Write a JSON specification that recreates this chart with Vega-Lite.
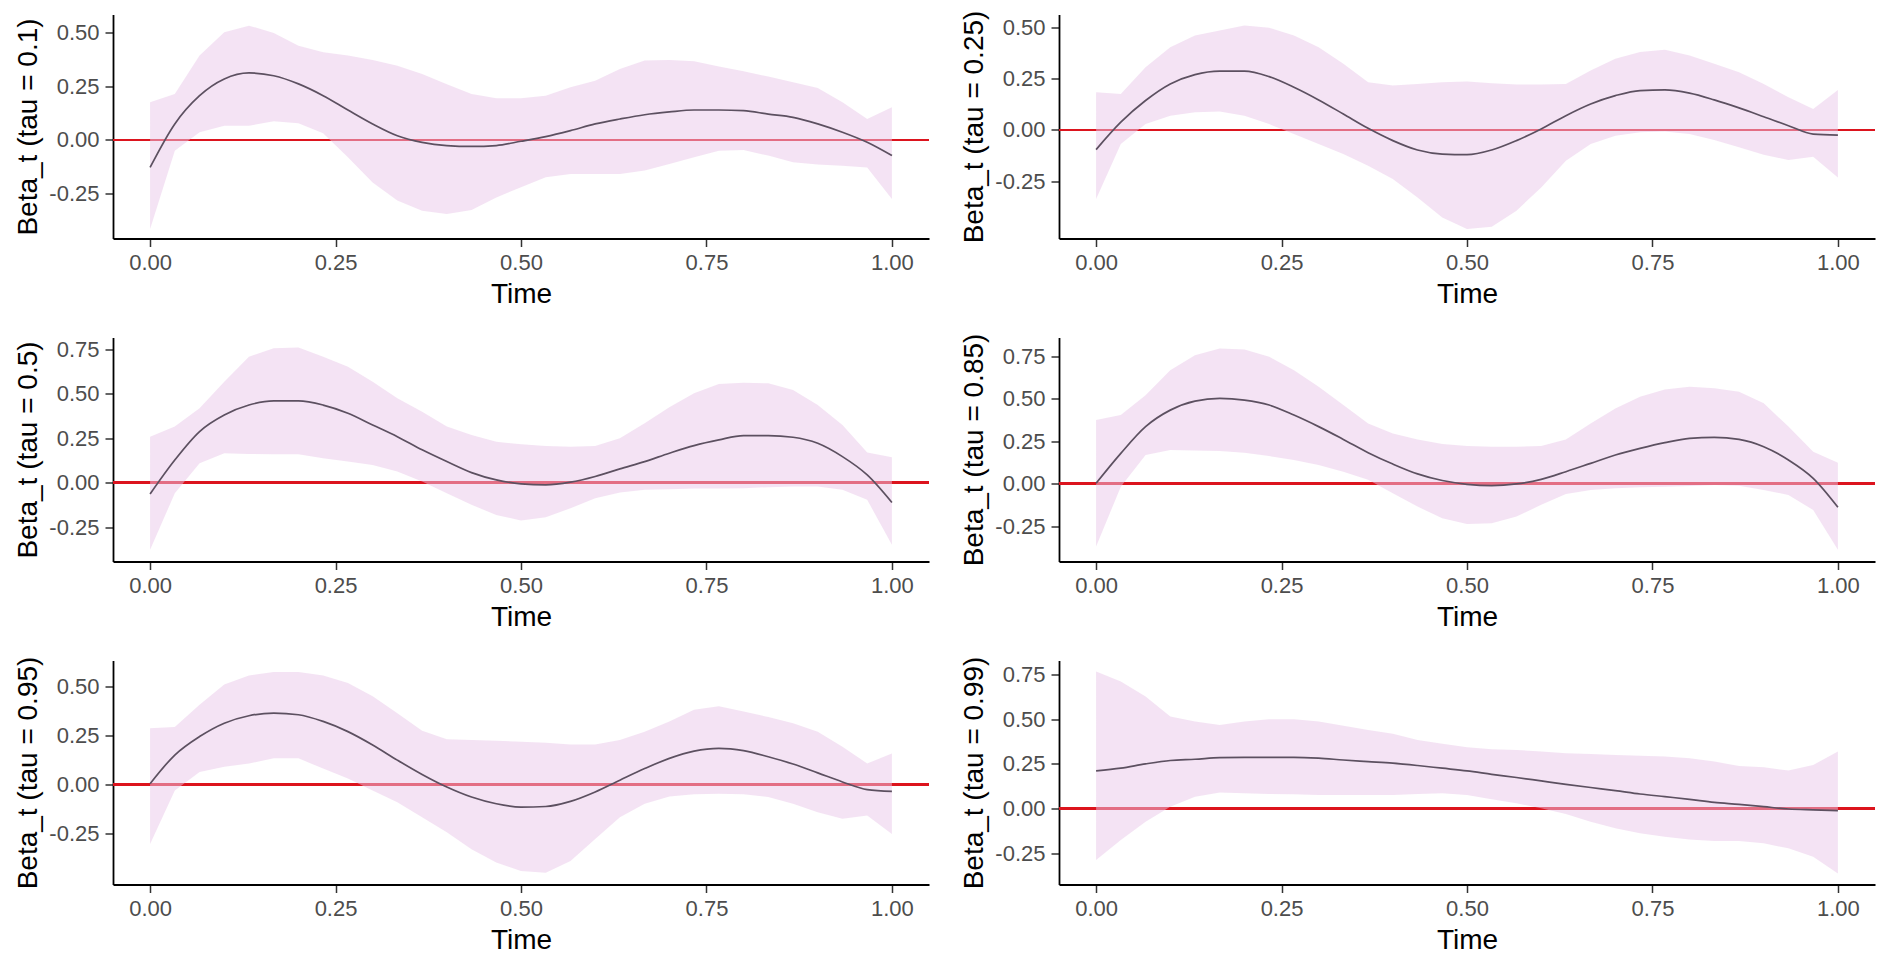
{
"$schema": "https://vega.github.io/schema/vega-lite/v6.json",
"background": "white",
"padding": {"left": 14, "top": 9.5, "right": 5, "bottom": 5},
"config": {
  "view": {"stroke": null},
  "axis": {"grid": false, "domainColor": "black", "domainWidth": 1.8, "tickColor": "#333333", "tickWidth": 1.5, "tickSize": 8, "labelColor": "#4D4D4D", "labelFont": "Liberation Sans", "labelFontSize": 22, "titleFont": "Liberation Sans", "titleFontSize": 28, "titleFontWeight": "normal", "titleColor": "black", "labelFlush": false, "labelOverlap": false},
  "axisX": {"labelPadding": 6, "titlePadding": 7},
  "axisY": {"labelPadding": 6, "titlePadding": 6}
},
"datasets": {
"p1": [
{"t":0,"lo":-0.416,"hi":0.176,"m":-0.128},{"t":0.0333,"lo":-0.05,"hi":0.215,"m":0.075},{"t":0.0667,"lo":0.036,"hi":0.394,"m":0.207},{"t":0.1,"lo":0.067,"hi":0.503,"m":0.285},{"t":0.1333,"lo":0.067,"hi":0.534,"m":0.313},{"t":0.1667,"lo":0.087,"hi":0.5,"m":0.3},{"t":0.2,"lo":0.078,"hi":0.44,"m":0.262},{"t":0.2333,"lo":0.031,"hi":0.41,"m":0.207},{"t":0.2667,"lo":-0.081,"hi":0.394,"m":0.14},{"t":0.3,"lo":-0.198,"hi":0.374,"m":0.075},{"t":0.3333,"lo":-0.283,"hi":0.347,"m":0.02},{"t":0.3667,"lo":-0.33,"hi":0.308,"m":-0.011},{"t":0.4,"lo":-0.346,"hi":0.26,"m":-0.026},{"t":0.4333,"lo":-0.327,"hi":0.215,"m":-0.03},{"t":0.4667,"lo":-0.268,"hi":0.195,"m":-0.026},{"t":0.5,"lo":-0.221,"hi":0.195,"m":-0.006},{"t":0.5333,"lo":-0.174,"hi":0.207,"m":0.016},{"t":0.5667,"lo":-0.159,"hi":0.246,"m":0.044},{"t":0.6,"lo":-0.159,"hi":0.277,"m":0.075},{"t":0.6333,"lo":-0.159,"hi":0.332,"m":0.098},{"t":0.6667,"lo":-0.143,"hi":0.371,"m":0.118},{"t":0.7,"lo":-0.112,"hi":0.374,"m":0.131},{"t":0.7333,"lo":-0.081,"hi":0.368,"m":0.14},{"t":0.7667,"lo":-0.05,"hi":0.343,"m":0.14},{"t":0.8,"lo":-0.047,"hi":0.321,"m":0.137},{"t":0.8333,"lo":-0.073,"hi":0.296,"m":0.121},{"t":0.8667,"lo":-0.104,"hi":0.27,"m":0.106},{"t":0.9,"lo":-0.115,"hi":0.243,"m":0.075},{"t":0.9333,"lo":-0.12,"hi":0.176,"m":0.036},{"t":0.9667,"lo":-0.128,"hi":0.098,"m":-0.011},{"t":1,"lo":-0.276,"hi":0.153,"m":-0.073}
],
"p2": [
{"t":0,"lo":-0.338,"hi":0.185,"m":-0.096},{"t":0.0333,"lo":-0.069,"hi":0.176,"m":0.038},{"t":0.0667,"lo":0.029,"hi":0.307,"m":0.144},{"t":0.1,"lo":0.07,"hi":0.405,"m":0.225},{"t":0.1333,"lo":0.087,"hi":0.462,"m":0.271},{"t":0.1667,"lo":0.09,"hi":0.487,"m":0.288},{"t":0.2,"lo":0.07,"hi":0.511,"m":0.288},{"t":0.2333,"lo":0.029,"hi":0.5,"m":0.261},{"t":0.2667,"lo":-0.02,"hi":0.462,"m":0.209},{"t":0.3,"lo":-0.069,"hi":0.405,"m":0.147},{"t":0.3333,"lo":-0.118,"hi":0.324,"m":0.078},{"t":0.3667,"lo":-0.175,"hi":0.234,"m":0.008},{"t":0.4,"lo":-0.24,"hi":0.217,"m":-0.052},{"t":0.4333,"lo":-0.33,"hi":0.225,"m":-0.098},{"t":0.4667,"lo":-0.428,"hi":0.234,"m":-0.118},{"t":0.5,"lo":-0.485,"hi":0.237,"m":-0.121},{"t":0.5333,"lo":-0.474,"hi":0.229,"m":-0.098},{"t":0.5667,"lo":-0.395,"hi":0.222,"m":-0.052},{"t":0.6,"lo":-0.281,"hi":0.222,"m":0.005},{"t":0.6333,"lo":-0.15,"hi":0.225,"m":0.07},{"t":0.6667,"lo":-0.069,"hi":0.291,"m":0.127},{"t":0.7,"lo":-0.028,"hi":0.348,"m":0.168},{"t":0.7333,"lo":-0.011,"hi":0.381,"m":0.193},{"t":0.7667,"lo":-0.008,"hi":0.392,"m":0.196},{"t":0.8,"lo":-0.02,"hi":0.364,"m":0.18},{"t":0.8333,"lo":-0.049,"hi":0.324,"m":0.147},{"t":0.8667,"lo":-0.085,"hi":0.283,"m":0.108},{"t":0.9,"lo":-0.121,"hi":0.225,"m":0.065},{"t":0.9333,"lo":-0.147,"hi":0.16,"m":0.021},{"t":0.9667,"lo":-0.131,"hi":0.103,"m":-0.02},{"t":1,"lo":-0.232,"hi":0.196,"m":-0.025}
],
"p3": [
{"t":0,"lo":-0.378,"hi":0.258,"m":-0.064},{"t":0.0333,"lo":-0.06,"hi":0.315,"m":0.127},{"t":0.0667,"lo":0.109,"hi":0.418,"m":0.287},{"t":0.1,"lo":0.165,"hi":0.567,"m":0.38},{"t":0.1333,"lo":0.161,"hi":0.708,"m":0.436},{"t":0.1667,"lo":0.159,"hi":0.755,"m":0.459},{"t":0.2,"lo":0.159,"hi":0.76,"m":0.459},{"t":0.2333,"lo":0.137,"hi":0.708,"m":0.436},{"t":0.2667,"lo":0.118,"hi":0.652,"m":0.39},{"t":0.3,"lo":0.099,"hi":0.567,"m":0.324},{"t":0.3333,"lo":0.062,"hi":0.474,"m":0.258},{"t":0.3667,"lo":0.006,"hi":0.399,"m":0.184},{"t":0.4,"lo":-0.06,"hi":0.315,"m":0.118},{"t":0.4333,"lo":-0.125,"hi":0.268,"m":0.056},{"t":0.4667,"lo":-0.182,"hi":0.23,"m":0.015},{"t":0.5,"lo":-0.213,"hi":0.215,"m":-0.007},{"t":0.5333,"lo":-0.195,"hi":0.206,"m":-0.013},{"t":0.5667,"lo":-0.144,"hi":0.202,"m":0.002},{"t":0.6,"lo":-0.088,"hi":0.206,"m":0.034},{"t":0.6333,"lo":-0.056,"hi":0.249,"m":0.077},{"t":0.6667,"lo":-0.041,"hi":0.333,"m":0.118},{"t":0.7,"lo":-0.037,"hi":0.423,"m":0.165},{"t":0.7333,"lo":-0.034,"hi":0.502,"m":0.208},{"t":0.7667,"lo":-0.034,"hi":0.554,"m":0.24},{"t":0.8,"lo":-0.032,"hi":0.562,"m":0.264},{"t":0.8333,"lo":-0.026,"hi":0.558,"m":0.264},{"t":0.8667,"lo":-0.022,"hi":0.521,"m":0.255},{"t":0.9,"lo":-0.022,"hi":0.436,"m":0.221},{"t":0.9333,"lo":-0.041,"hi":0.324,"m":0.146},{"t":0.9667,"lo":-0.097,"hi":0.169,"m":0.043},{"t":1,"lo":-0.35,"hi":0.142,"m":-0.112}
],
"p4": [
{"t":0,"lo":-0.37,"hi":0.374,"m":0.002},{"t":0.0333,"lo":-0.018,"hi":0.403,"m":0.178},{"t":0.0667,"lo":0.168,"hi":0.52,"m":0.335},{"t":0.1,"lo":0.198,"hi":0.667,"m":0.432},{"t":0.1333,"lo":0.194,"hi":0.755,"m":0.485},{"t":0.1667,"lo":0.192,"hi":0.795,"m":0.501},{"t":0.2,"lo":0.182,"hi":0.789,"m":0.491},{"t":0.2333,"lo":0.162,"hi":0.746,"m":0.462},{"t":0.2667,"lo":0.139,"hi":0.667,"m":0.403},{"t":0.3,"lo":0.11,"hi":0.569,"m":0.335},{"t":0.3333,"lo":0.07,"hi":0.462,"m":0.26},{"t":0.3667,"lo":0.022,"hi":0.354,"m":0.182},{"t":0.4,"lo":-0.057,"hi":0.295,"m":0.115},{"t":0.4333,"lo":-0.135,"hi":0.26,"m":0.057},{"t":0.4667,"lo":-0.204,"hi":0.233,"m":0.018},{"t":0.5,"lo":-0.237,"hi":0.221,"m":-0.004},{"t":0.5333,"lo":-0.233,"hi":0.217,"m":-0.012},{"t":0.5667,"lo":-0.194,"hi":0.217,"m":-0.002},{"t":0.6,"lo":-0.125,"hi":0.221,"m":0.025},{"t":0.6333,"lo":-0.061,"hi":0.26,"m":0.07},{"t":0.6667,"lo":-0.037,"hi":0.354,"m":0.119},{"t":0.7,"lo":-0.027,"hi":0.442,"m":0.168},{"t":0.7333,"lo":-0.022,"hi":0.511,"m":0.207},{"t":0.7667,"lo":-0.018,"hi":0.554,"m":0.241},{"t":0.8,"lo":-0.014,"hi":0.569,"m":0.266},{"t":0.8333,"lo":-0.008,"hi":0.56,"m":0.272},{"t":0.8667,"lo":-0.012,"hi":0.54,"m":0.26},{"t":0.9,"lo":-0.037,"hi":0.472,"m":0.217},{"t":0.9333,"lo":-0.067,"hi":0.335,"m":0.139},{"t":0.9667,"lo":-0.155,"hi":0.188,"m":0.031},{"t":1,"lo":-0.389,"hi":0.123,"m":-0.139}
],
"p5": [
{"t":0,"lo":-0.304,"hi":0.285,"m":0.003},{"t":0.0333,"lo":-0.031,"hi":0.291,"m":0.149},{"t":0.0667,"lo":0.063,"hi":0.405,"m":0.243},{"t":0.1,"lo":0.089,"hi":0.508,"m":0.311},{"t":0.1333,"lo":0.106,"hi":0.554,"m":0.349},{"t":0.1667,"lo":0.132,"hi":0.571,"m":0.362},{"t":0.2,"lo":0.132,"hi":0.571,"m":0.354},{"t":0.2333,"lo":0.08,"hi":0.554,"m":0.32},{"t":0.2667,"lo":0.029,"hi":0.516,"m":0.268},{"t":0.3,"lo":-0.031,"hi":0.448,"m":0.2},{"t":0.3333,"lo":-0.091,"hi":0.362,"m":0.123},{"t":0.3667,"lo":-0.168,"hi":0.273,"m":0.05},{"t":0.4,"lo":-0.244,"hi":0.229,"m":-0.014},{"t":0.4333,"lo":-0.33,"hi":0.226,"m":-0.065},{"t":0.4667,"lo":-0.398,"hi":0.221,"m":-0.099},{"t":0.5,"lo":-0.441,"hi":0.217,"m":-0.116},{"t":0.5333,"lo":-0.45,"hi":0.212,"m":-0.113},{"t":0.5667,"lo":-0.39,"hi":0.203,"m":-0.087},{"t":0.6,"lo":-0.279,"hi":0.203,"m":-0.039},{"t":0.6333,"lo":-0.168,"hi":0.226,"m":0.021},{"t":0.6667,"lo":-0.099,"hi":0.268,"m":0.08},{"t":0.7,"lo":-0.062,"hi":0.32,"m":0.132},{"t":0.7333,"lo":-0.051,"hi":0.379,"m":0.169},{"t":0.7667,"lo":-0.048,"hi":0.397,"m":0.183},{"t":0.8,"lo":-0.051,"hi":0.371,"m":0.171},{"t":0.8333,"lo":-0.065,"hi":0.342,"m":0.14},{"t":0.8667,"lo":-0.099,"hi":0.311,"m":0.103},{"t":0.9,"lo":-0.142,"hi":0.268,"m":0.058},{"t":0.9333,"lo":-0.176,"hi":0.191,"m":0.012},{"t":0.9667,"lo":-0.159,"hi":0.106,"m":-0.027},{"t":1,"lo":-0.253,"hi":0.157,"m":-0.036}
],
"p6": [
{"t":0,"lo":-0.287,"hi":0.767,"m":0.211},{"t":0.0333,"lo":-0.175,"hi":0.711,"m":0.226},{"t":0.0667,"lo":-0.073,"hi":0.627,"m":0.25},{"t":0.1,"lo":0.011,"hi":0.515,"m":0.269},{"t":0.1333,"lo":0.067,"hi":0.487,"m":0.276},{"t":0.1667,"lo":0.09,"hi":0.468,"m":0.285},{"t":0.2,"lo":0.086,"hi":0.487,"m":0.287},{"t":0.2333,"lo":0.082,"hi":0.5,"m":0.287},{"t":0.2667,"lo":0.08,"hi":0.5,"m":0.287},{"t":0.3,"lo":0.076,"hi":0.487,"m":0.282},{"t":0.3333,"lo":0.076,"hi":0.463,"m":0.272},{"t":0.3667,"lo":0.076,"hi":0.44,"m":0.263},{"t":0.4,"lo":0.076,"hi":0.418,"m":0.254},{"t":0.4333,"lo":0.082,"hi":0.384,"m":0.241},{"t":0.4667,"lo":0.086,"hi":0.362,"m":0.226},{"t":0.5,"lo":0.076,"hi":0.343,"m":0.211},{"t":0.5333,"lo":0.052,"hi":0.332,"m":0.192},{"t":0.5667,"lo":0.03,"hi":0.328,"m":0.174},{"t":0.6,"lo":0.002,"hi":0.319,"m":0.155},{"t":0.6333,"lo":-0.03,"hi":0.31,"m":0.136},{"t":0.6667,"lo":-0.073,"hi":0.306,"m":0.118},{"t":0.7,"lo":-0.11,"hi":0.3,"m":0.101},{"t":0.7333,"lo":-0.138,"hi":0.295,"m":0.082},{"t":0.7667,"lo":-0.157,"hi":0.291,"m":0.067},{"t":0.8,"lo":-0.172,"hi":0.282,"m":0.052},{"t":0.8333,"lo":-0.181,"hi":0.263,"m":0.035},{"t":0.8667,"lo":-0.181,"hi":0.239,"m":0.024},{"t":0.9,"lo":-0.194,"hi":0.231,"m":0.011},{"t":0.9333,"lo":-0.222,"hi":0.213,"m":-0.002},{"t":0.9667,"lo":-0.269,"hi":0.244,"m":-0.007},{"t":1,"lo":-0.362,"hi":0.319,"m":-0.011}
]
},
"columns": 2,
"spacing": {"row": 24, "column": 30},
"concat": [
{"width": 816, "height": 224, "data": {"name": "p1"}, "layer": [
 {"mark": {"type": "rule", "color": "#DC141E", "strokeWidth": 2}, "encoding": {"y": {"datum": 0, "type": "quantitative", "title": "Beta_t (tau = 0.1)"}}},
 {"mark": {"type": "area", "color": "#EAC8EA", "opacity": 0.5}, "encoding": {
   "x": {"field": "t", "type": "quantitative", "title": "Time", "scale": {"domain": [-0.05, 1.05], "nice": false, "zero": false}, "axis": {"values": [0, 0.25, 0.5, 0.75, 1], "format": ".2f"}},
   "y": {"field": "lo", "type": "quantitative", "title": "Beta_t (tau = 0.1)", "scale": {"domain": [-0.46, 0.586], "nice": false, "zero": false}, "axis": {"values": [-0.25, 0, 0.25, 0.5], "labelExpr": "replace(format(datum.value, '.2f'), '−', '-')"}},
   "y2": {"field": "hi"}}},
 {"mark": {"type": "line", "color": "#5C5060", "strokeWidth": 1.7, "interpolate": "monotone"}, "encoding": {"x": {"field": "t", "type": "quantitative", "title": "Time"}, "y": {"field": "m", "type": "quantitative", "title": "Beta_t (tau = 0.1)"}}}
]},
{"width": 816, "height": 224, "data": {"name": "p2"}, "layer": [
 {"mark": {"type": "rule", "color": "#DC141E", "strokeWidth": 2}, "encoding": {"y": {"datum": 0, "type": "quantitative", "title": "Beta_t (tau = 0.25)"}}},
 {"mark": {"type": "area", "color": "#EAC8EA", "opacity": 0.5}, "encoding": {
   "x": {"field": "t", "type": "quantitative", "title": "Time", "scale": {"domain": [-0.05, 1.05], "nice": false, "zero": false}, "axis": {"values": [0, 0.25, 0.5, 0.75, 1], "format": ".2f"}},
   "y": {"field": "lo", "type": "quantitative", "title": "Beta_t (tau = 0.25)", "scale": {"domain": [-0.531, 0.565], "nice": false, "zero": false}, "axis": {"values": [-0.25, 0, 0.25, 0.5], "labelExpr": "replace(format(datum.value, '.2f'), '−', '-')"}},
   "y2": {"field": "hi"}}},
 {"mark": {"type": "line", "color": "#5C5060", "strokeWidth": 1.7, "interpolate": "monotone"}, "encoding": {"x": {"field": "t", "type": "quantitative", "title": "Time"}, "y": {"field": "m", "type": "quantitative", "title": "Beta_t (tau = 0.25)"}}}
]},
{"width": 816, "height": 224, "data": {"name": "p3"}, "layer": [
 {"mark": {"type": "rule", "color": "#DC141E", "strokeWidth": 2}, "encoding": {"y": {"datum": 0, "type": "quantitative", "title": "Beta_t (tau = 0.5)"}}},
 {"mark": {"type": "area", "color": "#EAC8EA", "opacity": 0.5}, "encoding": {
   "x": {"field": "t", "type": "quantitative", "title": "Time", "scale": {"domain": [-0.05, 1.05], "nice": false, "zero": false}, "axis": {"values": [0, 0.25, 0.5, 0.75, 1], "format": ".2f"}},
   "y": {"field": "lo", "type": "quantitative", "title": "Beta_t (tau = 0.5)", "scale": {"domain": [-0.444, 0.816], "nice": false, "zero": false}, "axis": {"values": [-0.25, 0, 0.25, 0.5, 0.75], "labelExpr": "replace(format(datum.value, '.2f'), '−', '-')"}},
   "y2": {"field": "hi"}}},
 {"mark": {"type": "line", "color": "#5C5060", "strokeWidth": 1.7, "interpolate": "monotone"}, "encoding": {"x": {"field": "t", "type": "quantitative", "title": "Time"}, "y": {"field": "m", "type": "quantitative", "title": "Beta_t (tau = 0.5)"}}}
]},
{"width": 816, "height": 224, "data": {"name": "p4"}, "layer": [
 {"mark": {"type": "rule", "color": "#DC141E", "strokeWidth": 2}, "encoding": {"y": {"datum": 0, "type": "quantitative", "title": "Beta_t (tau = 0.85)"}}},
 {"mark": {"type": "area", "color": "#EAC8EA", "opacity": 0.5}, "encoding": {
   "x": {"field": "t", "type": "quantitative", "title": "Time", "scale": {"domain": [-0.05, 1.05], "nice": false, "zero": false}, "axis": {"values": [0, 0.25, 0.5, 0.75, 1], "format": ".2f"}},
   "y": {"field": "lo", "type": "quantitative", "title": "Beta_t (tau = 0.85)", "scale": {"domain": [-0.458, 0.859], "nice": false, "zero": false}, "axis": {"values": [-0.25, 0, 0.25, 0.5, 0.75], "labelExpr": "replace(format(datum.value, '.2f'), '−', '-')"}},
   "y2": {"field": "hi"}}},
 {"mark": {"type": "line", "color": "#5C5060", "strokeWidth": 1.7, "interpolate": "monotone"}, "encoding": {"x": {"field": "t", "type": "quantitative", "title": "Time"}, "y": {"field": "m", "type": "quantitative", "title": "Beta_t (tau = 0.85)"}}}
]},
{"width": 816, "height": 224, "data": {"name": "p5"}, "layer": [
 {"mark": {"type": "rule", "color": "#DC141E", "strokeWidth": 2}, "encoding": {"y": {"datum": 0, "type": "quantitative", "title": "Beta_t (tau = 0.95)"}}},
 {"mark": {"type": "area", "color": "#EAC8EA", "opacity": 0.5}, "encoding": {
   "x": {"field": "t", "type": "quantitative", "title": "Time", "scale": {"domain": [-0.05, 1.05], "nice": false, "zero": false}, "axis": {"values": [0, 0.25, 0.5, 0.75, 1], "format": ".2f"}},
   "y": {"field": "lo", "type": "quantitative", "title": "Beta_t (tau = 0.95)", "scale": {"domain": [-0.51, 0.63], "nice": false, "zero": false}, "axis": {"values": [-0.25, 0, 0.25, 0.5], "labelExpr": "replace(format(datum.value, '.2f'), '−', '-')"}},
   "y2": {"field": "hi"}}},
 {"mark": {"type": "line", "color": "#5C5060", "strokeWidth": 1.7, "interpolate": "monotone"}, "encoding": {"x": {"field": "t", "type": "quantitative", "title": "Time"}, "y": {"field": "m", "type": "quantitative", "title": "Beta_t (tau = 0.95)"}}}
]},
{"width": 816, "height": 224, "data": {"name": "p6"}, "layer": [
 {"mark": {"type": "rule", "color": "#DC141E", "strokeWidth": 2}, "encoding": {"y": {"datum": 0, "type": "quantitative", "title": "Beta_t (tau = 0.99)"}}},
 {"mark": {"type": "area", "color": "#EAC8EA", "opacity": 0.5}, "encoding": {
   "x": {"field": "t", "type": "quantitative", "title": "Time", "scale": {"domain": [-0.05, 1.05], "nice": false, "zero": false}, "axis": {"values": [0, 0.25, 0.5, 0.75, 1], "format": ".2f"}},
   "y": {"field": "lo", "type": "quantitative", "title": "Beta_t (tau = 0.99)", "scale": {"domain": [-0.424, 0.828], "nice": false, "zero": false}, "axis": {"values": [-0.25, 0, 0.25, 0.5, 0.75], "labelExpr": "replace(format(datum.value, '.2f'), '−', '-')"}},
   "y2": {"field": "hi"}}},
 {"mark": {"type": "line", "color": "#5C5060", "strokeWidth": 1.7, "interpolate": "monotone"}, "encoding": {"x": {"field": "t", "type": "quantitative", "title": "Time"}, "y": {"field": "m", "type": "quantitative", "title": "Beta_t (tau = 0.99)"}}}
]}
]
}
